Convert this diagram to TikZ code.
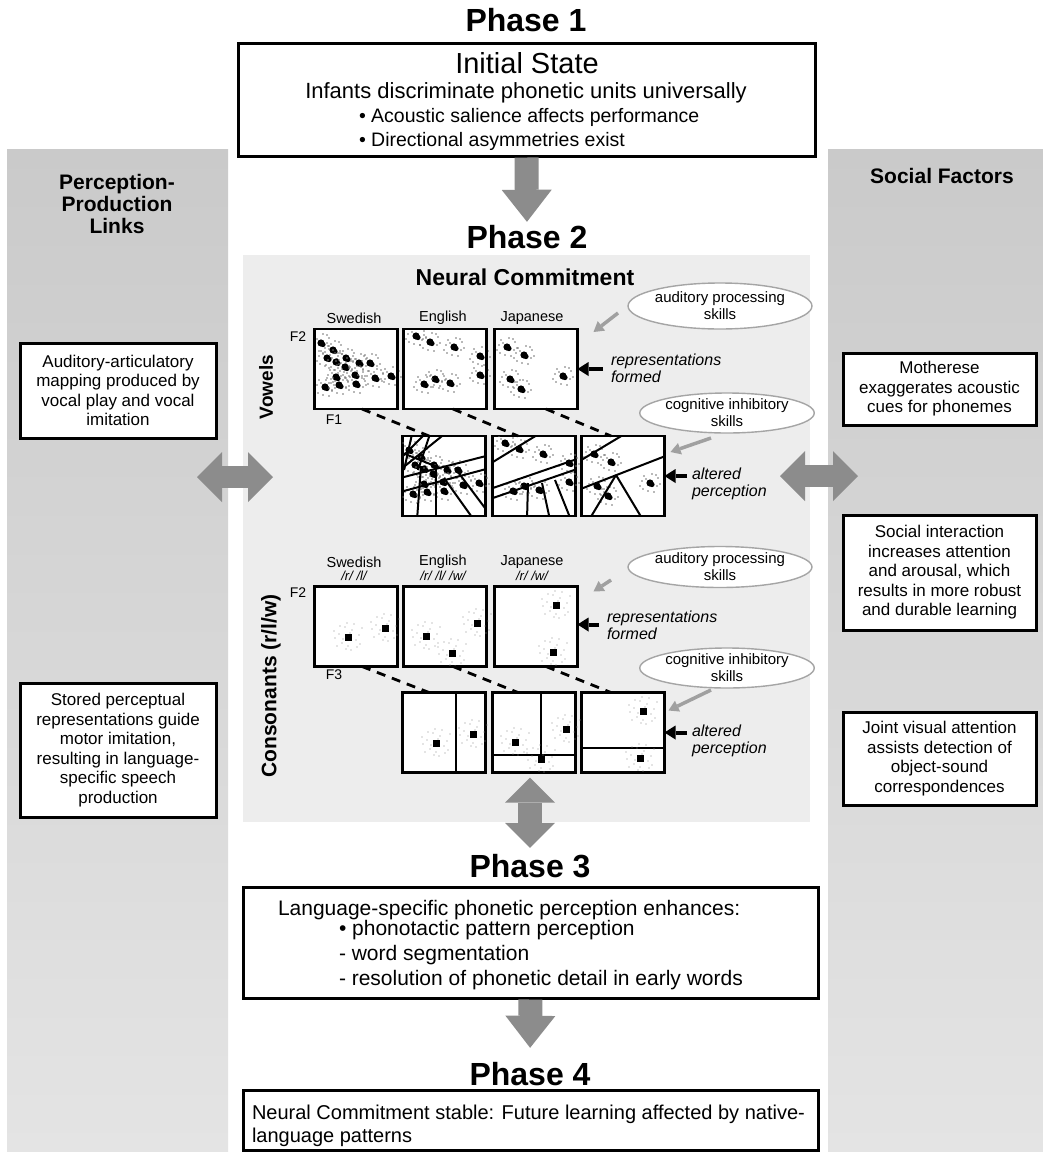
\documentclass[tikz,border=0pt]{standalone}
\usepackage{fontspec}
\setmainfont{Liberation Sans}
\usetikzlibrary{arrows.meta,shapes.geometric,calc}
\definecolor{arrgray}{RGB}{140,140,140}
\definecolor{lightarr}{RGB}{160,160,160}
\definecolor{ellgray}{RGB}{165,165,165}
\definecolor{midpanel}{RGB}{237,237,237}
\definecolor{sidetop}{RGB}{202,202,202}
\definecolor{sidebot}{RGB}{228,228,228}

\newcommand{\vclus}[2]{%
  \fill ({#1},{#2}) circle[radius=3.6pt];
  \fill ({#1+2},{#2+1.5}) circle[radius=2.6pt];
  \foreach \da/\db in {-8/-2,7/3,-2/8,8/-5,-10/3,2/-9,10/1,-6/-7,4/9,-4/-4,6/-8,-7/6}{%
    \fill[black!55] ({#1+\da},{#2+\db}) circle[radius=0.8pt];}%
}
\newcommand{\cclus}[2]{%
  \fill ({#1-3.5},{#2-3.5}) rectangle ({#1+3.5},{#2+3.5});
  \foreach \da/\db in {-9/-3,-6/6,-3/-10,0/9,4/-7,8/3,11/-2,-13/1,3/13,-8/-11,12/7,-5/2,6/-13,-14/-6,9/10,2/-4,-2/12,14/-9,-11/9,-1/-14}{%
    \fill[black!45] ({#1+\da},{#2+\db}) circle[radius=0.7pt];}%
}
\newcommand{\swvow}{\vclus{321}{343}\vclus{333}{350}\vclus{327}{358}\vclus{336}{362}\vclus{346}{358}\vclus{345}{367}\vclus{359}{363}\vclus{370}{363}\vclus{355}{375}\vclus{336}{377}\vclus{375}{378}\vclus{391}{376}\vclus{325}{387}\vclus{339}{385}\vclus{356}{384}}
\newcommand{\envow}{\vclus{416}{336}\vclus{430}{342}\vclus{454}{347}\vclus{480}{356}\vclus{480}{375}\vclus{435}{379}\vclus{424}{384}\vclus{450}{383}}
\newcommand{\javow}{\vclus{507}{347}\vclus{524}{355}\vclus{510}{379}\vclus{521}{389}\vclus{563}{376}}
\newcommand{\swcon}{\cclus{348}{637}\cclus{385}{628}}
\newcommand{\encon}{\cclus{426}{636}\cclus{452}{653}\cclus{477}{623}}
\newcommand{\jacon}{\cclus{556}{605}\cclus{553}{652}}

\begin{document}
\begin{tikzpicture}[x=1pt,y=-1pt,
  every node/.style={inner sep=0pt,outer sep=0pt},
  sidepanel/.style={top color=sidetop,bottom color=sidebot,draw=none},
  phasetitle/.style={anchor=base,font=\fontsize{32pt}{36pt}\selectfont\bfseries},
  pbox/.style={draw,line width=3pt,fill=white},
  sidebox/.style={draw,line width=3pt,fill=white,align=center,font=\fontsize{17pt}{19.5pt}\selectfont},
  heading/.style={align=center,font=\fontsize{21pt}{22pt}\selectfont\bfseries},
  plotbox/.style={draw,line width=2.6pt,fill=white,minimum width=83pt,minimum height=80pt},
  lang/.style={font=\fontsize{14.5pt}{16pt}\selectfont},
  ipa/.style={font=\fontsize{13pt}{14pt}\selectfont\itshape},
  axislab/.style={font=\fontsize{14pt}{16pt}\selectfont},
  bubble/.style={ellipse,draw=ellgray,line width=1.4pt,fill=white,minimum width=162pt,minimum height=42pt,align=center,font=\fontsize{15pt}{17pt}\selectfont},
  note/.style={align=left,anchor=west,font=\fontsize{16pt}{17pt}\selectfont\itshape},
  txt/.style={anchor=base west},
  blockarr/.style={draw=arrgray,line width=24pt,-{Triangle[width=50pt,length=32pt,line width=0pt]}},
  dblockarr/.style={draw=arrgray,line width=22pt,{Triangle[width=50pt,length=25pt,line width=0pt]}-{Triangle[width=50pt,length=25pt,line width=0pt]}},
  gyarr/.style={draw=lightarr,line width=3.5pt,-{Triangle[width=12pt,length=10pt,line width=0pt]}},
  blkarr/.style={draw=black,line width=4pt,-{Triangle[width=14pt,length=11pt,line width=0pt]}},
  dashlink/.style={draw,line width=2.8pt,dash pattern=on 9pt off 7pt},
  vline/.style={draw,line width=2pt}
]
\useasboundingbox (0,0) rectangle (1043,1152);
\fill[white] (0,0) rectangle (1043,1152);

% ---------- panels ----------
\node[sidepanel,minimum width=221pt,minimum height=1003pt] (lp) at (117.5,650.5) {};
\node[sidepanel,minimum width=215pt,minimum height=1003pt] (rp) at (935.5,650.5) {};
\node[fill=midpanel,minimum width=567pt,minimum height=567pt] (mp) at (526.5,538.5) {};

% ---------- phase titles and boxes ----------
\node[phasetitle] (t1) at (526,31) {Phase 1};
\node[pbox,minimum width=577pt,minimum height=113pt] (p1) at (526.5,99.5) {};
\node[anchor=base,font=\fontsize{29pt}{30pt}\selectfont] (is) at (527,73) {Initial State};
\node[anchor=base,font=\fontsize{22pt}{24pt}\selectfont] (inf) at (526,98) {Infants discriminate phonetic units universally};
\node[txt,font=\fontsize{19.5pt}{21pt}\selectfont] (b1) at (359,122) {• Acoustic salience affects performance};
\node[txt,font=\fontsize{19.5pt}{21pt}\selectfont] (b2) at (359,146) {• Directional asymmetries exist};

\node[phasetitle] (t2) at (527,248) {Phase 2};
\node[anchor=base,font=\fontsize{23pt}{24pt}\selectfont\bfseries] (nc) at (525,285) {Neural Commitment};

\node[phasetitle] (t3) at (530,877) {Phase 3};
\node[pbox,minimum width=575pt,minimum height=111pt] (p3) at (530.5,942.5) {};
\node[txt,font=\fontsize{21pt}{22pt}\selectfont] (l0) at (278,915) {Language-specific phonetic perception enhances:};
\node[txt,font=\fontsize{21pt}{22pt}\selectfont] (l1) at (339,935) {• phonotactic pattern perception};
\node[txt,font=\fontsize{21pt}{22pt}\selectfont] (l2) at (339,960) {- word segmentation};
\node[txt,font=\fontsize{21pt}{22pt}\selectfont] (l3) at (339,985) {- resolution of phonetic detail in early words};

\node[phasetitle] (t4) at (530,1085) {Phase 4};
\node[pbox,minimum width=575pt,minimum height=60pt] (p4) at (530.5,1120) {};
\node[txt,font=\fontsize{20pt}{22pt}\selectfont] (m1) at (252,1119) {Neural Commitment stable: Future learning affected by native-};
\node[txt,font=\fontsize{20pt}{22pt}\selectfont] (m2) at (252,1142) {language patterns};

% ---------- side panels ----------
\node[heading] (lh) at (117,203.5) {Perception-\\Production\\Links};
\node[heading,anchor=base] (rh) at (942,183) {Social Factors};

\node[sidebox,minimum width=196pt,minimum height=95pt] (sl1) at (118,390.5) {Auditory-articulatory\\mapping produced by\\vocal play and vocal\\imitation};
\node[sidebox,minimum width=196pt,minimum height=134pt] (sl2) at (118,750) {Stored perceptual\\representations guide\\motor imitation,\\resulting in language-\\specific speech\\production};
\node[sidebox,minimum width=193pt,minimum height=72pt] (sr1) at (939.5,389) {Motherese\\exaggerates acoustic\\cues for phonemes};
\node[sidebox,minimum width=193pt,minimum height=115pt] (sr2) at (939.5,572.5) {Social interaction\\increases attention\\and arousal, which\\results in more robust\\and durable learning};
\node[sidebox,minimum width=193pt,minimum height=93pt] (sr3) at (939.5,758.5) {Joint visual attention\\assists detection of\\object-sound\\correspondences};

% ---------- block arrows ----------
\draw[blockarr,shorten <=1.5pt,shorten >=3pt] (p1.south) -- (t2.north);
\draw[blockarr,shorten <=1.5pt,shorten >=14pt] (p3.south) -- (t4.north);
\coordinate (la) at (197,477);
\coordinate (lb) at (273,477);
\coordinate (ra) at (780,476);
\coordinate (rb) at (858,476);
\draw[dblockarr] (la) -- (lb);
\draw[dblockarr] (ra) -- (rb);

% ---------- vowel plots ----------
\node[lang] (vsl) at (354,318) {Swedish};
\node[lang] (vel) at (443,318) {English};
\node[lang] (vjl) at (532,318) {Japanese};
\node[axislab] (vf2) at (298,337) {F2};
\node[axislab] (vf1) at (334,420) {F1};
\node[rotate=90,font=\fontsize{19pt}{20pt}\selectfont\bfseries] (vow) at (266,387) {Vowels};

\node[plotbox] (vs) at (356,369) {};
\node[plotbox] (ve) at (445,369) {};
\node[plotbox] (vj) at (536,369) {};
\node[plotbox] (vbs) at (444,476) {};
\node[plotbox] (vbe) at (534,476) {};
\node[plotbox] (vbj) at (623,476) {};

\begin{scope}
\clip (vs.south west) rectangle (vj.north east);
\swvow \envow \javow
\end{scope}
\begin{scope}
\clip (vbs.south west) rectangle (vbj.north east);
\begin{scope}[shift={(88,107)}]\swvow\end{scope}
\begin{scope}[shift={(89,107)}]\envow\end{scope}
\begin{scope}[shift={(87,107)}]\javow\end{scope}
\end{scope}

\begin{scope}
\clip (vbs.south west) rectangle (vbs.north east);
\draw[vline] (400,459)--(425,434);
\draw[vline] (400,470)--(447,432);
\draw[vline] (412,434)--(404,470);
\draw[vline] (400,478)--(490,455);
\draw[vline] (400,492)--(490,468);
\draw[vline] (417,520)--(421,466);
\draw[vline] (436,520)--(436,466);
\draw[vline] (444,478)--(474,520);
\draw[vline] (455,468)--(488,512);
\draw[vline] (430,434)--(418,470);
\draw[vline] (400,452)--(440,468);
\end{scope}
\begin{scope}
\clip (vbe.south west) rectangle (vbe.north east);
\draw[vline] (488,465)--(542,432);
\draw[vline] (490,489)--(580,458);
\draw[vline] (490,499)--(580,468);
\draw[vline] (527,520)--(528,483);
\draw[vline] (550,520)--(542,483);
\draw[vline] (571,520)--(555,480);
\end{scope}
\begin{scope}
\clip (vbj.south west) rectangle (vbj.north east);
\draw[vline] (578,462)--(628,432);
\draw[vline] (578,490)--(668,455);
\draw[vline] (589,520)--(616,475);
\draw[vline] (616,475)--(643,520);
\end{scope}
\draw[line width=2.6pt] (vs.south west) rectangle (vs.north east);
\draw[line width=2.6pt] (ve.south west) rectangle (ve.north east);
\draw[line width=2.6pt] (vj.south west) rectangle (vj.north east);

\draw[dashlink] ([xshift=6pt]vs.south) -- ([xshift=-15pt]vbs.north);
\draw[dashlink] ([xshift=8pt]ve.south) -- ([xshift=-16pt]vbe.north);
\draw[dashlink] ([xshift=10pt]vj.south) -- ([xshift=-12pt]vbj.north);

\node[bubble,minimum height=46pt] (ea1) at (720,306) {auditory processing\\skills};
\node[bubble,minimum height=40pt] (eb1) at (727,413) {cognitive inhibitory\\skills};
\draw[gyarr] ([xshift=-10pt,yshift=-7pt]ea1.west) -- ([xshift=16pt,yshift=-3pt]vj.north east);
\draw[gyarr] ([xshift=-16pt,yshift=-5pt]eb1.south) -- ([xshift=6pt,yshift=-16pt]vbj.north east);

\node[note] (rf1) at (611,368.5) {representations\\formed};
\node[note] (ap1) at (692,483.5) {altered\\perception};
\draw[blkarr] ($(rf1.west |- vj.east)+(-8,0)$) -- (vj.east);
\draw[blkarr] ($(ap1.west |- vbj.east)+(-5,0)$) -- (vbj.east);

% ---------- consonant plots ----------
\node[lang] (csl) at (354,562) {Swedish};
\node[lang] (cel) at (443,562) {English};
\node[lang] (cjl) at (532,562) {Japanese};
\node[ipa] (csi) at (354,576) {/r/ /l/};
\node[ipa] (cei) at (443,576) {/r/ /l/ /w/};
\node[ipa] (cji) at (532,576) {/r/ /w/};
\node[axislab] (cf2) at (298,593) {F2};
\node[axislab] (cf3) at (334,675) {F3};
\node[rotate=90,font=\fontsize{21pt}{22pt}\selectfont\bfseries] (con) at (271,686) {Consonants (r/l/w)};

\node[plotbox] (cs) at (356,626.5) {};
\node[plotbox] (ce) at (445,626.5) {};
\node[plotbox] (cj) at (536,626.5) {};
\node[plotbox] (cbs) at (444,732.5) {};
\node[plotbox] (cbe) at (534,732.5) {};
\node[plotbox] (cbj) at (623,732.5) {};

\draw[vline,line width=2.4pt] (456,692.5) -- (456,772.5);
\draw[vline,line width=2.4pt] (493,755) -- (575.5,755);
\draw[vline,line width=2.4pt] (541,692.5) -- (541,755);
\draw[vline,line width=2.4pt] (581.5,748) -- (664.5,748);

\swcon \encon \jacon
\begin{scope}[shift={(88,106)}]\swcon\end{scope}
\begin{scope}[shift={(89,106)}]\encon\end{scope}
\begin{scope}[shift={(87,106)}]\jacon\end{scope}

\draw[dashlink] ([xshift=6pt]cs.south) -- ([xshift=-15pt]cbs.north);
\draw[dashlink] ([xshift=8pt]ce.south) -- ([xshift=-16pt]cbe.north);
\draw[dashlink] ([xshift=10pt]cj.south) -- ([xshift=-12pt]cbj.north);

\node[bubble,minimum height=41pt] (ea2) at (720,567) {auditory processing\\skills};
\node[bubble,minimum height=40pt] (eb2) at (727,668) {cognitive inhibitory\\skills};
\draw[gyarr] ([xshift=-17pt,yshift=-13pt]ea2.west) -- ([xshift=16pt,yshift=-5pt]cj.north east);
\draw[gyarr] ([xshift=-16pt,yshift=-2pt]eb2.south) -- ([xshift=4pt,yshift=-18pt]cbj.north east);

\node[note] (rf2) at (607,625) {representations\\formed};
\node[note] (ap2) at (692,740.5) {altered\\perception};
\draw[blkarr] ($(rf2.west |- cj.east)+(-8,-2)$) -- ($(cj.east)+(0,-2)$);
\draw[blkarr] ($(ap2.west |- cbj.east)+(-5,0)$) -- (cbj.east);

% ---------- Phase 2 <-> Phase 3 ----------
\draw[dblockarr,line width=24pt] ($(t3.north |- cbe.south)+(0,5)$) -- ([yshift=6pt]t3.north);
\end{tikzpicture}
\end{document}
